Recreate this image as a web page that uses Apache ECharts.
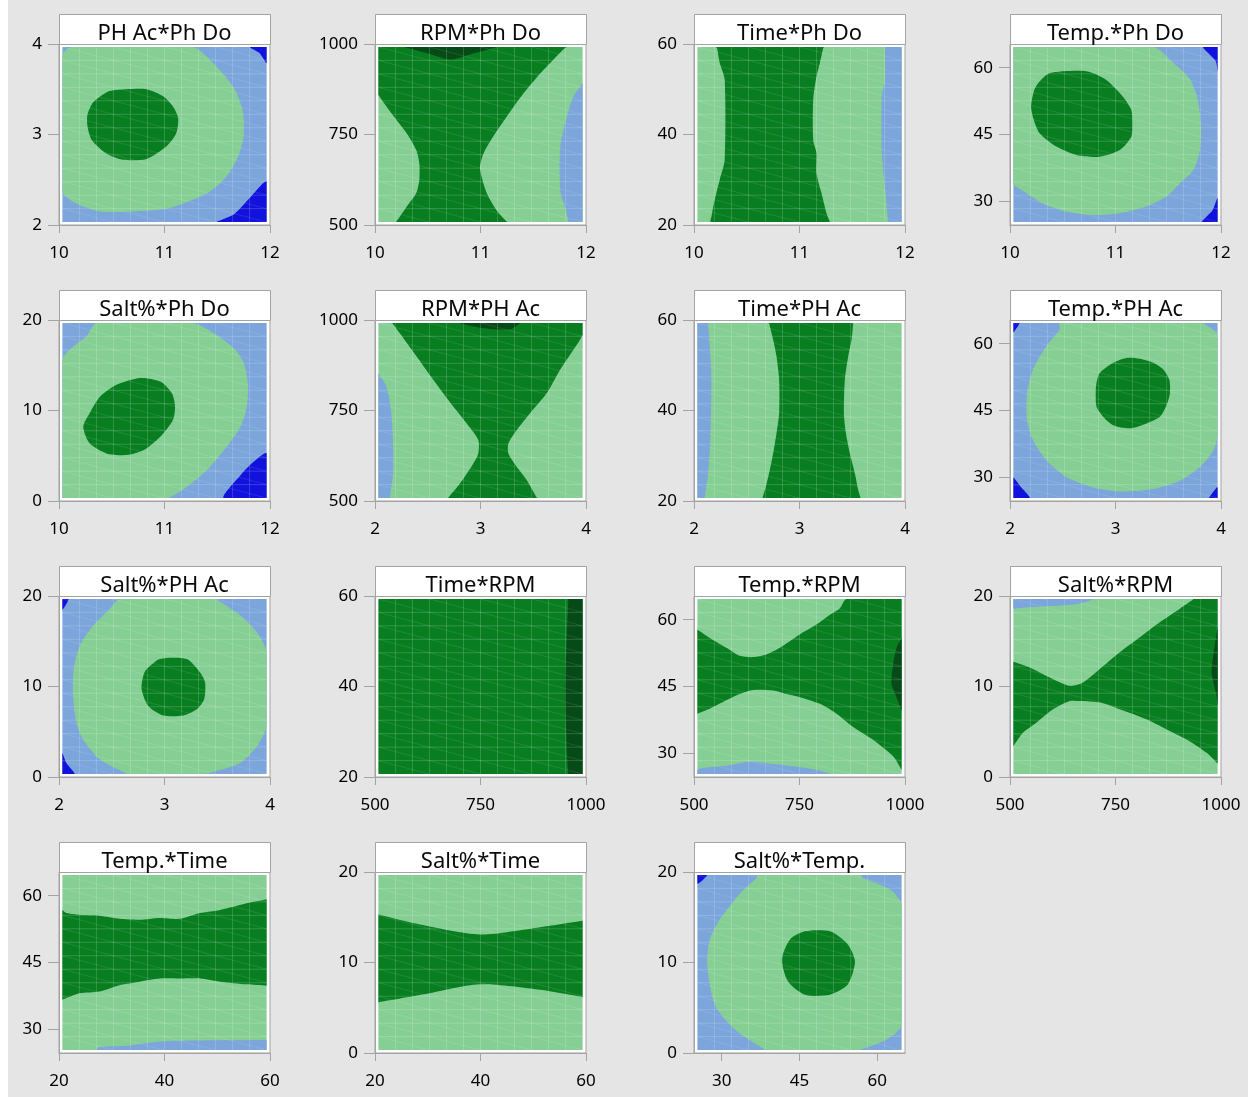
<!DOCTYPE html>
<html>
<head>
<meta charset="utf-8">
<title>Contour plots</title>
<script src="https://cdn.jsdelivr.net/npm/echarts@6/dist/echarts.min.js"></script>
<style>
  html, body { margin: 0; padding: 0; background: #ffffff; }
  #chart { width: 1250px; height: 1097px; }
</style>
</head>
<body>
<div id="chart"></div>
<script>
// ---- factor ranges and tick labels ----
const phDoRange = [10, 12],      phDoTicks = [10, 11, 12];
const phAcRange = [2, 4],        phAcTicks = [2, 3, 4];
const rpmRange  = [500, 1000],   rpmTicks  = [500, 750, 1000];
const timeRange = [20, 60],      timeTicks = [20, 40, 60];
const tempRange = [24.67, 65.33], tempTicks = [30, 45, 60];
const saltRange = [0, 20],       saltTicks = [0, 10, 20];

// ---- contour regions (boundary points in factor units) ----
// PH Ac * Ph Do
const acDo_lightGreen = [[10.12,4.1],[11.27,4.1],[11.46,3.79],[11.65,3.53],[11.74,3.27],[11.75,2.98],[11.70,2.76],[11.59,2.54],[11.43,2.37],[11.27,2.28],[11.02,2.18],[10.70,2.15],[10.39,2.15],[10.16,2.24],[9.9,2.37],[9.95,3.88]];
const acDo_green = [[10.39,3.42],[10.48,3.48],[10.64,3.50],[10.83,3.50],[10.99,3.42],[11.08,3.31],[11.13,3.18],[11.11,3.01],[11.02,2.87],[10.83,2.73],[10.61,2.72],[10.45,2.79],[10.31,2.94],[10.27,3.09],[10.27,3.22],[10.32,3.35]];
const acDo_darkBlueTop = [[11.81,4.1],[12.1,4.1],[12.1,3.79],[11.9,3.9]];
const acDo_darkBlueBottom = [[11.50,1.9],[11.66,2.12],[11.81,2.30],[12.1,2.48],[12.1,1.9]];

// RPM * Ph Do
const rpmDo_green = [[9.9,1010],[11.82,1010],[11.80,989],[11.69,956.6],[11.57,919.7],[11.41,864.4],[11.25,799.8],[11.12,744.5],[11.03,698.3],[10.995,661.4],[11.01,633.8],[11.06,587.6],[11.15,541.5],[11.25,509],[11.27,490],[10.19,490],[10.20,509],[10.30,550.7],[10.39,587.6],[10.42,624.5],[10.42,670.7],[10.39,707.6],[10.30,753.7],[10.155,809],[10.03,859.8],[9.9,870]];
const rpmDo_darkGreen = [[10.28,1010],[10.31,989],[10.49,975],[10.71,957],[10.90,971],[11.12,989],[11.15,1010]];
const rpmDo_lightBlue = [[12.1,900],[12.0,892],[11.88,855],[11.82,800],[11.76,726],[11.75,661],[11.76,588],[11.80,551],[11.835,509],[11.84,490],[12.1,490]];

// Time * Ph Do
const timeDo_green = [[10.21,61],[11.23,61],[11.225,59.1],[11.193,55.8],[11.161,52.8],[11.13,47.7],[11.13,38.8],[11.161,35.9],[11.161,31.4],[11.209,27.0],[11.256,22.6],[11.288,20.7],[11.29,19],[10.16,19],[10.165,21.8],[10.196,25.5],[10.244,30.0],[10.291,34.4],[10.291,52.1],[10.244,55.8],[10.218,59.1]];
const timeDo_lightBlue = [[11.81,61],[11.81,59.1],[11.81,51.5],[11.78,48.7],[11.78,35.9],[11.81,28.5],[11.84,20.7],[11.84,19],[12.1,19],[12.1,61]];

// Temp. * Ph Do
const tempDo_lightGreen = [[9.9,66],[11.36,66],[11.55,61.05],[11.71,57.3],[11.78,52.8],[11.81,46.8],[11.80,41.5],[11.74,37.0],[11.61,34.0],[11.48,31.0],[11.29,28.8],[11.04,27.3],[10.79,26.9],[10.53,27.7],[10.31,29.5],[10.155,31.8],[10.03,33.7],[9.9,33.8]];
const tempDo_green = [[10.28,56.9],[10.38,58.8],[10.725,59.2],[10.91,57.3],[11.07,53.5],[11.15,50.5],[11.16,47.5],[11.15,44.5],[11.04,41.5],[10.85,40.0],[10.63,40.4],[10.44,42.3],[10.28,45.3],[10.225,48.3],[10.20,51.3],[10.23,55.0]];
const tempDo_darkBlueTop = [[11.83,66],[12.1,66],[12.1,59.2],[11.95,61.5]];
const tempDo_darkBlueBottom = [[11.82,24],[12.1,24],[12.1,30.7],[11.92,28.0]];

// Salt% * Ph Do
const saltDo_lightGreen = [[10.355,21],[11.27,21],[11.46,18.6],[11.655,16.9],[11.75,15.3],[11.79,13.0],[11.78,10.4],[11.72,8.2],[11.59,6.0],[11.40,3.4],[11.21,1.55],[11.05,0.4],[11.0,-1],[9.9,-1],[9.9,15.6],[10.12,16.9],[10.26,18.2]];
const saltDo_green = [[10.29,9.7],[10.39,11.55],[10.545,12.85],[10.77,13.6],[10.96,13.2],[11.07,11.9],[11.10,10.45],[11.08,8.96],[10.96,7.1],[10.80,5.6],[10.64,5.07],[10.45,5.26],[10.29,6.37],[10.23,8.2]];
const saltDo_darkBlue = [[11.56,-1],[12.1,-1],[12.1,5.26],[11.845,4.33],[11.72,2.85]];

// RPM * PH Ac
const rpmAc_green = [[2.165,1010],[4.1,1010],[4.1,960.2],[3.883,918.5],[3.756,863],[3.629,798],[3.47,742.6],[3.344,696.3],[3.265,659.2],[3.265,631.5],[3.344,594.4],[3.439,557.4],[3.534,509],[3.54,490],[2.69,490],[2.694,509],[2.805,548],[2.932,603.7],[2.979,631.5],[2.979,668.5],[2.868,714.8],[2.742,761],[2.552,835],[2.393,900],[2.266,951],[2.165,990.7]];
const rpmAc_darkGreen = [[2.80,1010],[2.805,990.7],[2.995,978.7],[3.28,974],[3.376,990.7],[3.38,1010]];
const rpmAc_lightBlue = [[1.9,860],[2.03,853.7],[2.108,816.7],[2.155,742.6],[2.171,650],[2.171,576],[2.14,509],[2.14,490],[1.9,490]];

// Time * PH Ac
const timeAc_lightBlue = [[1.9,61],[2.133,61],[2.133,59.3],[2.149,54.2],[2.165,46.8],[2.155,33.5],[2.133,26.1],[2.101,20.7],[2.10,19],[1.9,19]];
const timeAc_green = [[2.712,61],[3.509,61],[3.509,59.3],[3.494,55.7],[3.462,52.0],[3.43,46.8],[3.421,39.4],[3.44,35.0],[3.478,30.5],[3.525,26.1],[3.557,22.4],[3.579,20.7],[3.58,19],[2.649,19],[2.649,20.7],[2.68,23.1],[2.718,26.8],[2.75,30.5],[2.782,35.0],[2.807,39.4],[2.807,46.8],[2.782,52.0],[2.75,55.7],[2.712,59.3]];

// Temp. * PH Ac
const tempAc_lightGreen = [[2.472,66],[3.832,66],[3.832,64.6],[3.959,62.5],[4.1,60.6],[4.1,39.8],[3.927,36.0],[3.80,32.3],[3.61,29.2],[3.358,27.35],[3.041,26.8],[2.788,27.7],[2.535,30.0],[2.345,33.8],[2.218,38.3],[2.161,42.8],[2.161,48.9],[2.218,54.2],[2.345,59.5],[2.472,63.25]];
const tempAc_green = [[2.851,53.4],[2.978,55.7],[3.104,56.8],[3.231,56.6],[3.358,55.7],[3.453,54.2],[3.51,51.9],[3.516,48.9],[3.484,46.2],[3.421,43.6],[3.294,42.1],[3.136,41.0],[2.978,41.7],[2.883,43.6],[2.82,45.9],[2.813,49.6],[2.82,51.2]];
const tempAc_darkBlueTopLeft = [[1.9,66],[2.09,66],[2.03,62.5],[1.9,62.5]];
const tempAc_darkBlueBottomLeft = [[1.9,30.0],[2.03,30.0],[2.108,27.7],[2.187,24],[1.9,24]];
const tempAc_darkBlueBottomRight = [[3.889,24],[3.889,25.5],[3.959,27.7],[4.1,27.7],[4.1,24]];

// Salt% * PH Ac
const saltAc_lightGreen = [[2.577,21],[3.496,21],[3.496,19.6],[3.718,17.85],[3.876,16.0],[4.05,13.8],[4.05,5.63],[3.876,3.4],[3.718,1.56],[3.401,0.37],[3.40,-1],[2.64,-1],[2.64,0.37],[2.387,1.93],[2.228,4.15],[2.165,6.0],[2.133,8.96],[2.139,11.9],[2.197,14.5],[2.323,16.7],[2.482,18.6]];
const saltAc_green = [[2.83,11.9],[2.957,13.04],[3.211,13.04],[3.338,11.55],[3.385,10.44],[3.376,8.6],[3.306,7.48],[3.179,6.8],[2.989,6.8],[2.846,7.85],[2.783,9.7],[2.799,11.2]];
const saltAc_darkBlueTopLeft = [[1.9,21],[2.09,21],[1.9,18.5]];
const saltAc_darkBlueBottomLeft = [[1.9,2.67],[2.0,2.67],[2.07,1.56],[2.149,-1],[1.9,-1]];

// Time * RPM
const timeRpm_darkGreen = [[1010,61],[958,61],[958,59],[954,50],[950,40],[952,32],[955,25],[958,20],[958,19],[1010,19]];

// Temp. * RPM
const tempRpm_green = [[490,57.8],[507.9,57.8],[537.2,55.9],[576.7,53.7],[608.4,51.9],[640,51.6],[671.6,52.2],[703.3,53.7],[750.7,56.7],[790.3,58.9],[822,61.1],[845.7,62.6],[861.5,66],[1010,66],[1010,26.3],[1000,26.3],[972.3,29.3],[924.8,33.0],[877.3,35.9],[837.8,38.9],[798.2,41.1],[750.7,42.6],[719.1,43.3],[687.5,44.1],[640,44.2],[608.4,43.3],[576.7,41.9],[537.2,40.0],[507.9,38.9],[490,38.9]];
const tempRpm_darkGreen = [[1010,55.9],[1000,55.9],[980,53.7],[972,50],[968,45.6],[980,42.6],[1000,39.6],[1010,39.6]];
const tempRpm_lightBlue = [[490,24],[490,25.4],[507.9,26.3],[521,26.7],[576.7,27.2],[632,28.1],[687.5,27.6],[743,27.0],[790,26.3],[822,25.4],[822,24]];

// Salt% * RPM
const saltRpm_lightBlue = [[490,21],[697,21],[697,19.6],[665,19.15],[618,18.96],[555,18.78],[507,18.6],[490,18.6]];
const saltRpm_green = [[490,12.74],[507,12.74],[546.7,12.1],[594,11.0],[641.6,10.07],[673,10.44],[712.8,11.93],[760,13.78],[807.7,15.44],[855,17.1],[902.6,18.6],[934,19.6],[934,21],[1010,21],[1010,1.48],[1007,1.48],[966,2.67],[918.4,4.15],[871,5.26],[823.5,6.37],[760,7.48],[712.8,8.22],[665.3,8.4],[641.6,8.4],[602,7.48],[562.5,6.0],[530.8,4.89],[507,3.4],[490,3.4]];
const saltRpm_darkGreen = [[1010,16.56],[1007,16.56],[981.7,13.4],[977.8,11.55],[989.6,8.96],[1007,7.85],[1010,7.85]];

// Temp. * Time
const tempTime_green = [[19,56.8],[20,56.8],[21.4,56.1],[23.9,55.7],[27.7,55.5],[31.5,54.8],[35.3,54.6],[39.1,55.0],[42.9,54.8],[46.75,56.1],[50.55,56.8],[55.6,58.3],[59.4,59.2],[61,59.2],[61,39.8],[59.4,39.8],[55.6,40.1],[50.55,40.7],[46.75,41.4],[42.9,41.4],[39.1,41.4],[35.3,40.7],[31.5,39.9],[27.7,38.5],[23.9,38.1],[21.4,37.0],[20,36.6],[19,36.6]];
const tempTime_lightBlue = [[27.1,24],[27.1,25.4],[27.7,26.0],[32.8,26.3],[35.3,26.7],[41.7,27.4],[59.4,27.6],[61,27.6],[61,24]];

// Salt% * Time
const saltTime_green = [[19,15.3],[20.6,15.3],[28.5,14.2],[39.9,13.1],[51.3,13.9],[59.8,14.6],[61,14.6],[61,6.2],[59.8,6.2],[51.3,7.0],[39.9,7.6],[28.5,6.4],[20.6,5.6],[19,5.6]];

// Salt% * Temp.
const saltTemp_lightGreen = [[29.7,14.8],[33.5,17.6],[36.8,19.4],[36.8,21],[57.0,21],[57.0,19.4],[62.4,18.1],[66,16.4],[66,3.1],[61.5,1.4],[56.65,0.33],[56.65,-1],[38.35,-1],[38.35,0.33],[32.6,2.56],[28.7,5.3],[27.2,9.8],[27.75,12.6]];
const saltTemp_green = [[41.6,10.33],[43.2,12.56],[46.05,13.44],[50.87,13.44],[54.3,12.0],[55.7,10.1],[54.3,7.56],[50.87,6.44],[46.05,6.44],[42.8,7.9]];
const saltTemp_darkBlue = [[24,21],[27.2,21],[24,18.7]];

// ---- styling ----
const COLORS = {
  darkBlue:  '#1212dd',
  lightBlue: '#7ba5db',
  lightGreen:'#86cf94',
  green:     '#087e20',
  darkGreen: '#064a17'
};
const FRAME = '#a3a3a3';
const FONT = 'Noto Sans';

const AXES = {
  phDo: { range: phDoRange, ticks: phDoTicks },
  phAc: { range: phAcRange, ticks: phAcTicks },
  rpm:  { range: rpmRange,  ticks: rpmTicks },
  time: { range: timeRange, ticks: timeTicks },
  temp: { range: tempRange, ticks: tempTicks },
  salt: { range: saltRange, ticks: saltTicks }
};

const panels = [
  { title: 'PH Ac*Ph Do', x: 'phDo', y: 'phAc', base: 'lightBlue',
    layers: [['lightGreen', acDo_lightGreen], ['green', acDo_green], ['darkBlue', acDo_darkBlueTop], ['darkBlue', acDo_darkBlueBottom]] },
  { title: 'RPM*Ph Do', x: 'phDo', y: 'rpm', base: 'lightGreen',
    layers: [['green', rpmDo_green], ['darkGreen', rpmDo_darkGreen], ['lightBlue', rpmDo_lightBlue]] },
  { title: 'Time*Ph Do', x: 'phDo', y: 'time', base: 'lightGreen',
    layers: [['green', timeDo_green], ['lightBlue', timeDo_lightBlue]] },
  { title: 'Temp.*Ph Do', x: 'phDo', y: 'temp', base: 'lightBlue',
    layers: [['lightGreen', tempDo_lightGreen], ['green', tempDo_green], ['darkBlue', tempDo_darkBlueTop], ['darkBlue', tempDo_darkBlueBottom]] },
  { title: 'Salt%*Ph Do', x: 'phDo', y: 'salt', base: 'lightBlue',
    layers: [['lightGreen', saltDo_lightGreen], ['green', saltDo_green], ['darkBlue', saltDo_darkBlue]] },
  { title: 'RPM*PH Ac', x: 'phAc', y: 'rpm', base: 'lightGreen',
    layers: [['green', rpmAc_green], ['darkGreen', rpmAc_darkGreen], ['lightBlue', rpmAc_lightBlue]] },
  { title: 'Time*PH Ac', x: 'phAc', y: 'time', base: 'lightGreen',
    layers: [['lightBlue', timeAc_lightBlue], ['green', timeAc_green]] },
  { title: 'Temp.*PH Ac', x: 'phAc', y: 'temp', base: 'lightBlue',
    layers: [['lightGreen', tempAc_lightGreen], ['green', tempAc_green], ['darkBlue', tempAc_darkBlueTopLeft], ['darkBlue', tempAc_darkBlueBottomLeft], ['darkBlue', tempAc_darkBlueBottomRight]] },
  { title: 'Salt%*PH Ac', x: 'phAc', y: 'salt', base: 'lightBlue',
    layers: [['lightGreen', saltAc_lightGreen], ['green', saltAc_green], ['darkBlue', saltAc_darkBlueTopLeft], ['darkBlue', saltAc_darkBlueBottomLeft]] },
  { title: 'Time*RPM', x: 'rpm', y: 'time', base: 'green',
    layers: [['darkGreen', timeRpm_darkGreen]] },
  { title: 'Temp.*RPM', x: 'rpm', y: 'temp', base: 'lightGreen',
    layers: [['green', tempRpm_green], ['darkGreen', tempRpm_darkGreen], ['lightBlue', tempRpm_lightBlue]] },
  { title: 'Salt%*RPM', x: 'rpm', y: 'salt', base: 'lightGreen',
    layers: [['lightBlue', saltRpm_lightBlue], ['green', saltRpm_green], ['darkGreen', saltRpm_darkGreen]] },
  { title: 'Temp.*Time', x: 'time', y: 'temp', base: 'lightGreen',
    layers: [['green', tempTime_green], ['lightBlue', tempTime_lightBlue]] },
  { title: 'Salt%*Time', x: 'time', y: 'salt', base: 'lightGreen',
    layers: [['green', saltTime_green]] },
  { title: 'Salt%*Temp.', x: 'temp', y: 'salt', base: 'lightBlue',
    layers: [['lightGreen', saltTemp_lightGreen], ['green', saltTemp_green], ['darkBlue', saltTemp_darkBlue]] }
];

// ---- layout of the 4 x 4 matrix ----
const COL_LEFT = [59, 375, 694, 1010];
const ROW_TOP = [44, 320, 596, 872];   // top of each plot area
const PLOT_W = 211, PLOT_H = 181, TITLE_H = 30;
const INSET = 0.016;                    // fitted surface stops just inside the axes
const MESH_COLS = 12, MESH_ROWS = 13;   // faint interpolation mesh over the filled contours

function extentOf(range) {
  const span = range[1] - range[0];
  return [range[0] + span * INSET, range[1] - span * INSET];
}
function clamp(v, ext) { return Math.min(ext[1], Math.max(ext[0], v)); }

const grids = [], xAxes = [], yAxes = [], series = [], graphics = [];

graphics.push({
  type: 'rect', z: -10, silent: true,
  shape: { x: 8, y: 0, width: 1240, height: 1097 },
  style: { fill: '#e5e5e5' }
});

function axisDef(key, gridIndex, isX) {
  const a = AXES[key];
  return {
    type: 'value', gridIndex,
    min: a.range[0], max: a.range[1],
    axisLine: { show: true, lineStyle: { color: FRAME, width: 1 } },
    axisTick: { show: true, inside: false, length: isX ? 8 : 11, customValues: a.ticks,
                lineStyle: { color: FRAME, width: 1 } },
    axisLabel: { show: true, customValues: a.ticks, margin: isX ? 20 : 17,
                 formatter: v => String(v),
                 color: '#000000', fontFamily: FONT, fontSize: 17 },
    splitLine: { show: false }
  };
}

panels.forEach((p, i) => {
  const col = i % 4, row = Math.floor(i / 4);
  const left = COL_LEFT[col], top = ROW_TOP[row];
  grids.push({
    left, top, width: PLOT_W, height: PLOT_H,
    show: true, backgroundColor: '#ffffff', borderColor: FRAME, borderWidth: 1,
    containLabel: false, outerBoundsMode: 'none'
  });
  xAxes.push(axisDef(p.x, i, true));
  yAxes.push(axisDef(p.y, i, false));

  const ex = extentOf(AXES[p.x].range), ey = extentOf(AXES[p.y].range);
  const layers = [{ color: p.base, pts: [[ex[0], ey[0]], [ex[1], ey[0]], [ex[1], ey[1]], [ex[0], ey[1]]], smooth: 0 }]
    .concat(p.layers.map(l => ({ color: l[0], pts: l[1], smooth: 0.25 })))
    .concat([{ mesh: true }]);

  series.push({
    type: 'custom', name: p.title,
    coordinateSystem: 'cartesian2d', xAxisIndex: i, yAxisIndex: i,
    clip: false, silent: true,
    data: layers.map((l, k) => [k]),
    renderItem: function (params, api) {
      const layer = layers[params.dataIndex];
      const a = api.coord([ex[0], ey[1]]), b = api.coord([ex[1], ey[0]]);
      const x0 = Math.min(a[0], b[0]), y0 = Math.min(a[1], b[1]);
      const x1 = Math.max(a[0], b[0]), y1 = Math.max(a[1], b[1]);
      if (layer.mesh) {
        const lines = [];
        const st = { stroke: 'rgba(255,255,255,0.22)', lineWidth: 0.8 };
        for (let r = 1; r < MESH_ROWS; r++) {
          const y = y0 + (y1 - y0) * r / MESH_ROWS;
          lines.push({ type: 'line', shape: { x1: x0, y1: y, x2: x1, y2: y }, style: st });
        }
        for (let c = 1; c < MESH_COLS; c++) {
          const x = x0 + (x1 - x0) * c / MESH_COLS;
          lines.push({ type: 'line', shape: { x1: x, y1: y0, x2: x, y2: y1 }, style: st });
        }
        const dst = { stroke: 'rgba(255,255,255,0.14)', lineWidth: 0.7 };
        for (let r = 0; r < MESH_ROWS; r++) {
          const ya = y0 + (y1 - y0) * r / MESH_ROWS, yb = y0 + (y1 - y0) * (r + 1) / MESH_ROWS;
          for (let c = 0; c < MESH_COLS; c += 3) {
            const xa = x0 + (x1 - x0) * c / MESH_COLS, xb = x0 + (x1 - x0) * Math.min(MESH_COLS, c + 3) / MESH_COLS;
            lines.push({ type: 'line', shape: { x1: xa, y1: ya, x2: xb, y2: yb }, style: dst });
          }
        }
        return { type: 'group', children: lines };
      }
      const pts = layer.pts.map(pt => api.coord([clamp(pt[0], ex), clamp(pt[1], ey)]));
      return {
        type: 'polygon',
        shape: { points: pts, smooth: layer.smooth, smoothConstraint: [[x0, y0], [x1, y1]] },
        style: { fill: COLORS[layer.color], stroke: null }
      };
    }
  });

  // title strip above each plot
  graphics.push({
    type: 'rect', z: 10, silent: true,
    shape: { x: left + 0.5, y: top - TITLE_H + 0.5, width: PLOT_W, height: TITLE_H },
    style: { fill: '#ffffff', stroke: FRAME, lineWidth: 1 }
  });
  graphics.push({
    type: 'text', z: 11, silent: true,
    x: left + PLOT_W / 2, y: top - 10,
    style: { text: p.title, fill: '#0a0a0a', font: '22px "' + FONT + '"',
             align: 'center', verticalAlign: 'middle' }
  });
});

const chart = echarts.init(document.getElementById('chart'), null, { renderer: 'canvas' });
chart.setOption({
  backgroundColor: '#ffffff',
  animation: false,
  grid: grids,
  xAxis: xAxes,
  yAxis: yAxes,
  series: series,
  graphic: { elements: graphics }
});
</script>
</body>
</html>
